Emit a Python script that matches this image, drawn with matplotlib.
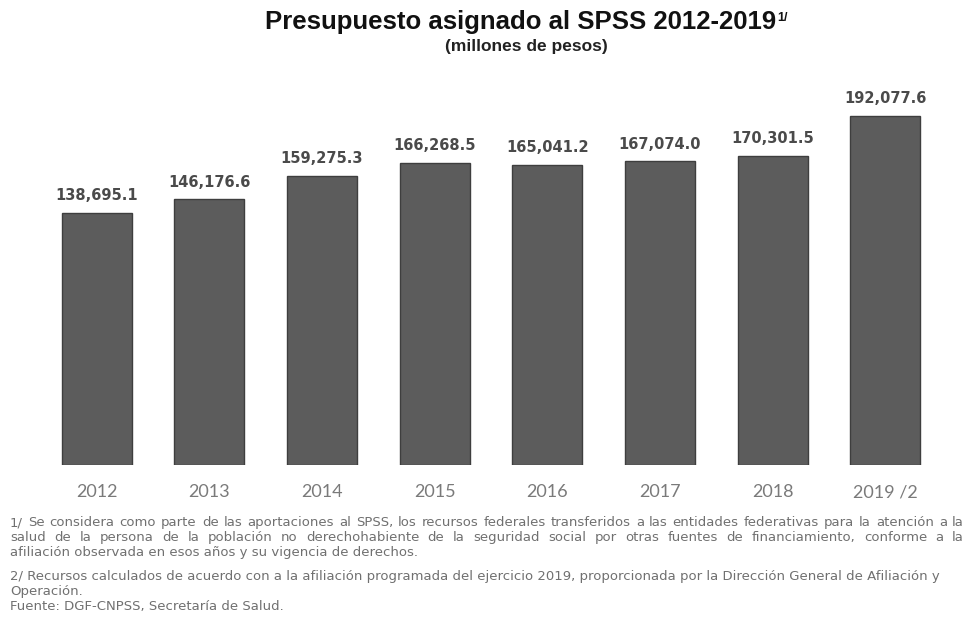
import matplotlib
matplotlib.use("Agg")
from matplotlib import pyplot as plt

years = ["2012", "2013", "2014", "2015", "2016", "2017", "2018", "2019 /2"]
budget = [138695.1, 146176.6, 159275.3, 166268.5, 165041.2, 167074.0, 170301.5, 192077.6]

title = "Presupuesto asignado al SPSS 2012-2019"
subtitle = "(millones de pesos)"
notes = [
    "1/ Se considera como parte de las aportaciones al SPSS, los recursos federales transferidos a las entidades federativas para la atención a la",
    "salud de la persona de la población no derechohabiente de la seguridad social por otras fuentes de financiamiento, conforme a la",
    "afiliación observada en esos años y su vigencia de derechos.",
    "2/ Recursos calculados de acuerdo con a la afiliación programada del ejercicio 2019, proporcionada por la Dirección General de Afiliación y",
    "Operación.",
    "Fuente: DGF-CNPSS, Secretaría de Salud.",
]
justified = [True, True, False, False, False, False]

W, H = 970, 623
fig = plt.figure(figsize=(W / 100, H / 100), dpi=100)
fig.patch.set_facecolor("white")

# axes placed in pixel terms: bars sit on y=465, tallest bar top ~116
ax_left, ax_right = 29, 953
ax_bottom, ax_top = 465, 80
ax = fig.add_axes([ax_left / W, (H - ax_bottom) / H,
                   (ax_right - ax_left) / W, (ax_bottom - ax_top) / H])

x = list(range(len(years)))
bars = ax.bar(x, budget, width=0.62, color="#5c5c5c", edgecolor="#3e3e3e", linewidth=1.0)

ax.set_xlim(-0.6, len(years) - 0.4)
ax.set_ylim(0, max(budget) * (ax_bottom - ax_top) / 349)

for rect, v in zip(bars, budget):
    ax.annotate(f"{v:,.1f}", (rect.get_x() + rect.get_width() / 2, v),
                xytext=(0, 7), textcoords="offset points", ha="center", va="bottom",
                fontsize=10.5, fontweight="bold", color="#4a4a4a", family="DejaVu Sans",
                annotation_clip=False)

ax.set_xticks(x)
ax.set_xticklabels(years, fontsize=13, color="#7a7a7a", family="Lato")
ax.tick_params(axis="x", length=0, pad=14)
ax.set_yticks([])
for s in ax.spines.values():
    s.set_visible(False)

renderer = fig.canvas.get_renderer()

t = fig.text(521 / W, 1 - 22 / H, title, ha="center", va="center",
             fontsize=18.5, fontweight="bold", family="Liberation Sans", color="#111111")
bb = t.get_window_extent(renderer)
fig.text((bb.x1 + 1) / W, (bb.y1 - 2) / H, "1/", ha="left", va="top",
         fontsize=9, fontweight="bold", family="Liberation Sans", color="#111111")
fig.text(526 / W, 1 - 46 / H, subtitle, ha="center", va="center",
         fontsize=12.5, fontweight="bold", family="Liberation Sans", color="#222222")

# footnotes: font size chosen so the "2/" line ends where it does in the source
note_left, note_right = 10, 964
probe = fig.text(0, 0, notes[3], fontsize=10, family="DejaVu Sans")
note_size = 10 * (935 - note_left) / probe.get_window_extent(renderer).width
probe.remove()

# baselines of the footnote lines (pixels from top)
note_y = [526, 541, 556, 580, 595, 610]
for line, yy, just in zip(notes, note_y, justified):
    ypos = 1 - yy / H
    if not just:
        fig.text(note_left / W, ypos, line, ha="left", va="baseline",
                 fontsize=note_size, family="DejaVu Sans", color="#707070")
        continue
    words = line.split(" ")
    widths = []
    for w in words:
        tw = fig.text(0, 0, w, fontsize=note_size, family="DejaVu Sans")
        widths.append(tw.get_window_extent(renderer).width)
        tw.remove()
    gap = (note_right - note_left - sum(widths)) / (len(words) - 1)
    xx = note_left
    for w, ww in zip(words, widths):
        fig.text(xx / W, ypos, w, ha="left", va="baseline",
                 fontsize=note_size, family="DejaVu Sans", color="#707070")
        xx += ww + gap

fig.savefig("out.png", dpi=100, facecolor="white")
